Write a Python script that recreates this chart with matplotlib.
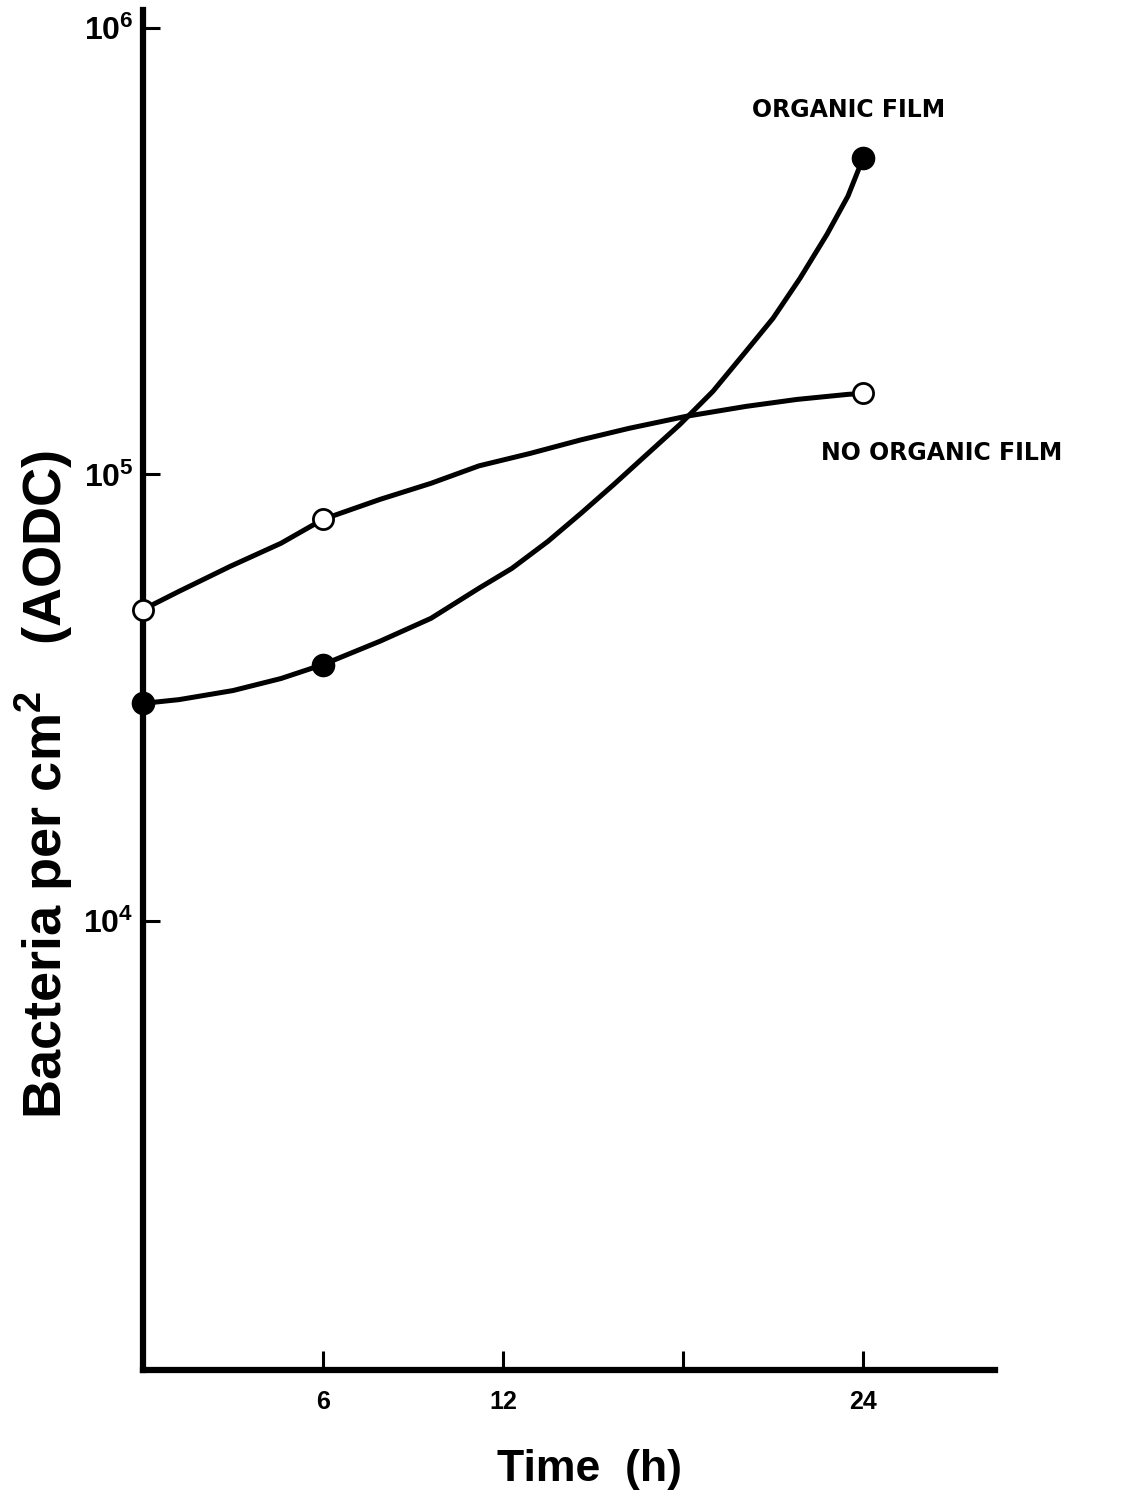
import math
import matplotlib.pyplot as plt
import matplotlib.ticker as mticker

plt.rcParams['font.family'] = ['Liberation Sans', 'DejaVu Sans']
plt.rcParams['mathtext.fontset'] = 'custom'
plt.rcParams['mathtext.rm'] = 'Liberation Sans:bold'
plt.rcParams['mathtext.bf'] = 'Liberation Sans:bold'
plt.rcParams['mathtext.it'] = 'Liberation Sans:bold'

# measured points (time in h, bacteria per cm2)
time_h = [0, 6, 24]
organic_film = [3.07e4, 3.75e4, 5.10e5]
no_organic_film = [4.98e4, 7.93e4, 1.518e5]

# hand-drawn curves
organic_curve_x = [0, 1.2, 3.0, 4.6, 6.0, 7.9, 9.6, 11.2, 12.3, 13.5, 14.6, 15.7,
                   16.8, 17.9, 19.0, 20.1, 21.0, 21.9, 22.8, 23.5, 24]
organic_curve_y = [3.07e4, 3.13e4, 3.28e4, 3.49e4, 3.75e4, 4.23e4, 4.76e4, 5.56e4,
                   6.16e4, 7.08e4, 8.18e4, 9.5e4, 1.109e5, 1.294e5, 1.535e5,
                   1.886e5, 2.236e5, 2.748e5, 3.448e5, 4.2e5, 5.10e5]
no_organic_curve_x = [0, 1.2, 2.9, 4.6, 6.0, 7.9, 9.6, 11.2, 12.9, 14.6, 16.2,
                      18.1, 20.1, 21.8, 23.5, 24]
no_organic_curve_y = [4.98e4, 5.47e4, 6.22e4, 7.01e4, 7.93e4, 8.79e4, 9.55e4,
                      1.045e5, 1.114e5, 1.195e5, 1.268e5, 1.349e5, 1.42e5,
                      1.472e5, 1.511e5, 1.518e5]

x_ticks = [6, 12, 18, 24]
x_tick_labels = ['6', '12', '', '24']
y_ticks = [1e4, 1e5, 1e6]

fig = plt.figure(figsize=(11.41, 14.98), dpi=100)
ax = fig.add_axes([0.1253, 0.0854, 0.7467, 0.9079])

lw = 3.6
ax.plot(organic_curve_x, organic_curve_y, color='black', lw=lw,
        solid_capstyle='round', solid_joinstyle='round', clip_on=False, zorder=3)
ax.plot(no_organic_curve_x, no_organic_curve_y, color='black', lw=lw,
        solid_capstyle='round', solid_joinstyle='round', clip_on=False, zorder=3)

ax.plot(time_h, organic_film, linestyle='none', marker='o', markersize=16,
        color='black', clip_on=False, zorder=5)
ax.plot(time_h, no_organic_film, linestyle='none', marker='o', markersize=14.5,
        markerfacecolor='white', markeredgecolor='black', markeredgewidth=2,
        clip_on=False, zorder=5)

ax.set_yscale('log')
ax.set_xlim(0, 28.4)
ax.set_ylim(10 ** 2.994, 10 ** 6.04)

ax.spines['top'].set_visible(False)
ax.spines['right'].set_visible(False)
ax.spines['left'].set_linewidth(4.5)
ax.spines['bottom'].set_linewidth(4.5)

ax.set_xticks(x_ticks)
ax.set_xticklabels(x_tick_labels)
ax.set_yticks(y_ticks)
ax.yaxis.set_major_formatter(mticker.FuncFormatter(
    lambda v, p: r'$\mathbf{10^{%d}}$' % round(math.log10(v))))
ax.yaxis.set_minor_locator(mticker.NullLocator())
ax.tick_params(axis='x', direction='in', length=14, width=2.2, pad=14,
               labelsize=18)
ax.tick_params(axis='y', direction='in', length=12, width=2.2, pad=7,
               labelsize=23)
for lab in ax.get_xticklabels():
    lab.set_fontweight('bold')

ax.text(20.3, 10 ** 5.817, 'ORGANIC FILM', fontsize=17, fontweight='bold',
        family=['DejaVu Sans'], ha='left', va='center', clip_on=False)
ax.text(22.6, 10 ** 5.047, 'NO ORGANIC FILM', fontsize=17, fontweight='bold',
        family=['DejaVu Sans'], ha='left', va='center', clip_on=False)

fig.text(0.517, 0.0187, 'Time  (h)', fontsize=32, fontweight='bold',
         ha='center', va='center')
fig.text(0.039, 0.476, r'Bacteria per cm$^{2}$   (AODC)', fontsize=39,
         fontweight='bold', rotation=90, ha='center', va='center')

fig.savefig('out.png', dpi=100)
